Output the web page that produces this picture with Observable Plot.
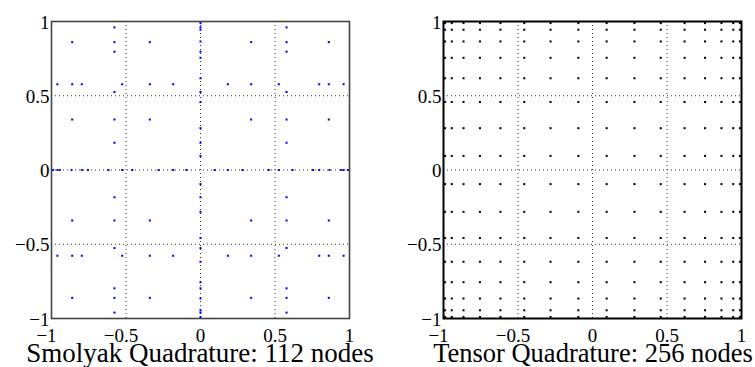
<!DOCTYPE html>
<html>
<head>
<meta charset="utf-8">
<script src="https://cdn.jsdelivr.net/npm/d3@7"></script>
<script src="https://cdn.jsdelivr.net/npm/@observablehq/plot@0.6"></script>
<style>
  html, body { margin: 0; padding: 0; background: #fff; }
  #wrap { position: relative; width: 755px; height: 367px; overflow: hidden; background: #fff; }
  .panel { position: absolute; top: 0; }
  .title { position: absolute; font-family: "Liberation Serif", "Times New Roman", serif; font-size: 27px; line-height: 14px; height: 14px; text-align: center; white-space: nowrap; color: #000; }
</style>
</head>
<body>
<div id="wrap">
  <div id="left" class="panel" style="left:0px"></div>
  <div id="right" class="panel" style="left:378px"></div>
  <div class="title" style="left:0px; width:400px; top:346px;">Smolyak Quadrature: 112 nodes</div>
  <div class="title" style="left:393px; width:400px; top:346px; font-size:26.5px;">Tensor Quadrature: 256 nodes</div>
</div>
<script>
// 1D node sets (positions along each axis)
const nodes1 = [0];
const nodes2 = [-0.5774, 0.5774];
const nodes4 = [-0.8611, -0.3400, 0.3400, 0.8611];
const nodes8 = [-0.9603, -0.7967, -0.5255, -0.1834, 0.1834, 0.5255, 0.7967, 0.9603];
const nodes16 = [-0.9894, -0.9446, -0.8656, -0.7554, -0.6179, -0.4580, -0.2816, -0.0950,
                  0.0950,  0.2816,  0.4580,  0.6179,  0.7554,  0.8656,  0.9446,  0.9894];

// Smolyak panel: which node sets are combined in x and y
const smolyakCombos = [
  ["n1", "n16"], ["n16", "n1"],
  ["n1", "n8"],  ["n8", "n1"],
  ["n2", "n8"],  ["n8", "n2"],
  ["n2", "n4"],  ["n4", "n2"],
  ["n4", "n4"]
];
// Tensor panel: full product
const tensorCombos = [["n16", "n16"]];

const ticks = [-1, -0.5, 0, 0.5, 1];
const gridTicks = [-0.5, 0, 0.5];

const sets = {n1: nodes1, n2: nodes2, n4: nodes4, n8: nodes8, n16: nodes16};
function build(combos) {
  const out = [];
  for (const [a, b] of combos)
    for (const px of sets[a])
      for (const py of sets[b]) out.push({x: px, y: py});
  return out;
}
const smolyakPts = build(smolyakCombos);
const tensorPts = build(tensorCombos);

const fmt = d => (d < 0 ? "\u2212" : "") + Math.abs(d);

function panel(points, color, frameColor, frameWidth, mLeft, mRight) {
  return Plot.plot({
    width: 377,
    height: 346,
    marginLeft: mLeft,
    marginRight: mRight,
    marginTop: 21,
    marginBottom: 28,
    x: {domain: [-1, 1]},
    y: {domain: [-1, 1]},
    style: {fontFamily: "'Liberation Serif', 'Times New Roman', serif", fontSize: "19px", color: "#000", background: "transparent", overflow: "visible"},
    marks: [
      Plot.gridX(gridTicks, {stroke: "#333", strokeOpacity: 1, strokeDasharray: "1,3"}),
      Plot.gridY(gridTicks, {stroke: "#333", strokeOpacity: 1, strokeDasharray: "1,3"}),
      Plot.dot(points, {x: "x", y: "y", fill: color, r: 1.15, symbol: "square"}),
      Plot.frame({stroke: frameColor, strokeWidth: frameWidth}),
      Plot.axisX(ticks.filter(d => d >= 0), {tickSize: 0, tickPadding: 10, tickFormat: fmt, label: null, fill: "#000"}),
      Plot.axisX(ticks.filter(d => d < 0), {tickSize: 0, tickPadding: 10, tickFormat: fmt, label: null, dx: -5, fill: "#000"}),
      Plot.axisY(ticks, {tickSize: 0, tickPadding: 2, tickFormat: fmt, label: null, dy: 1, fill: "#000"})
    ]
  });
}

document.getElementById("left").appendChild(panel(smolyakPts, "#0000ff", "#444", 1.6, 51, 28));
document.getElementById("right").appendChild(panel(tensorPts, "#000", "#000", 2, 65, 14));
</script>
</body>
</html>
